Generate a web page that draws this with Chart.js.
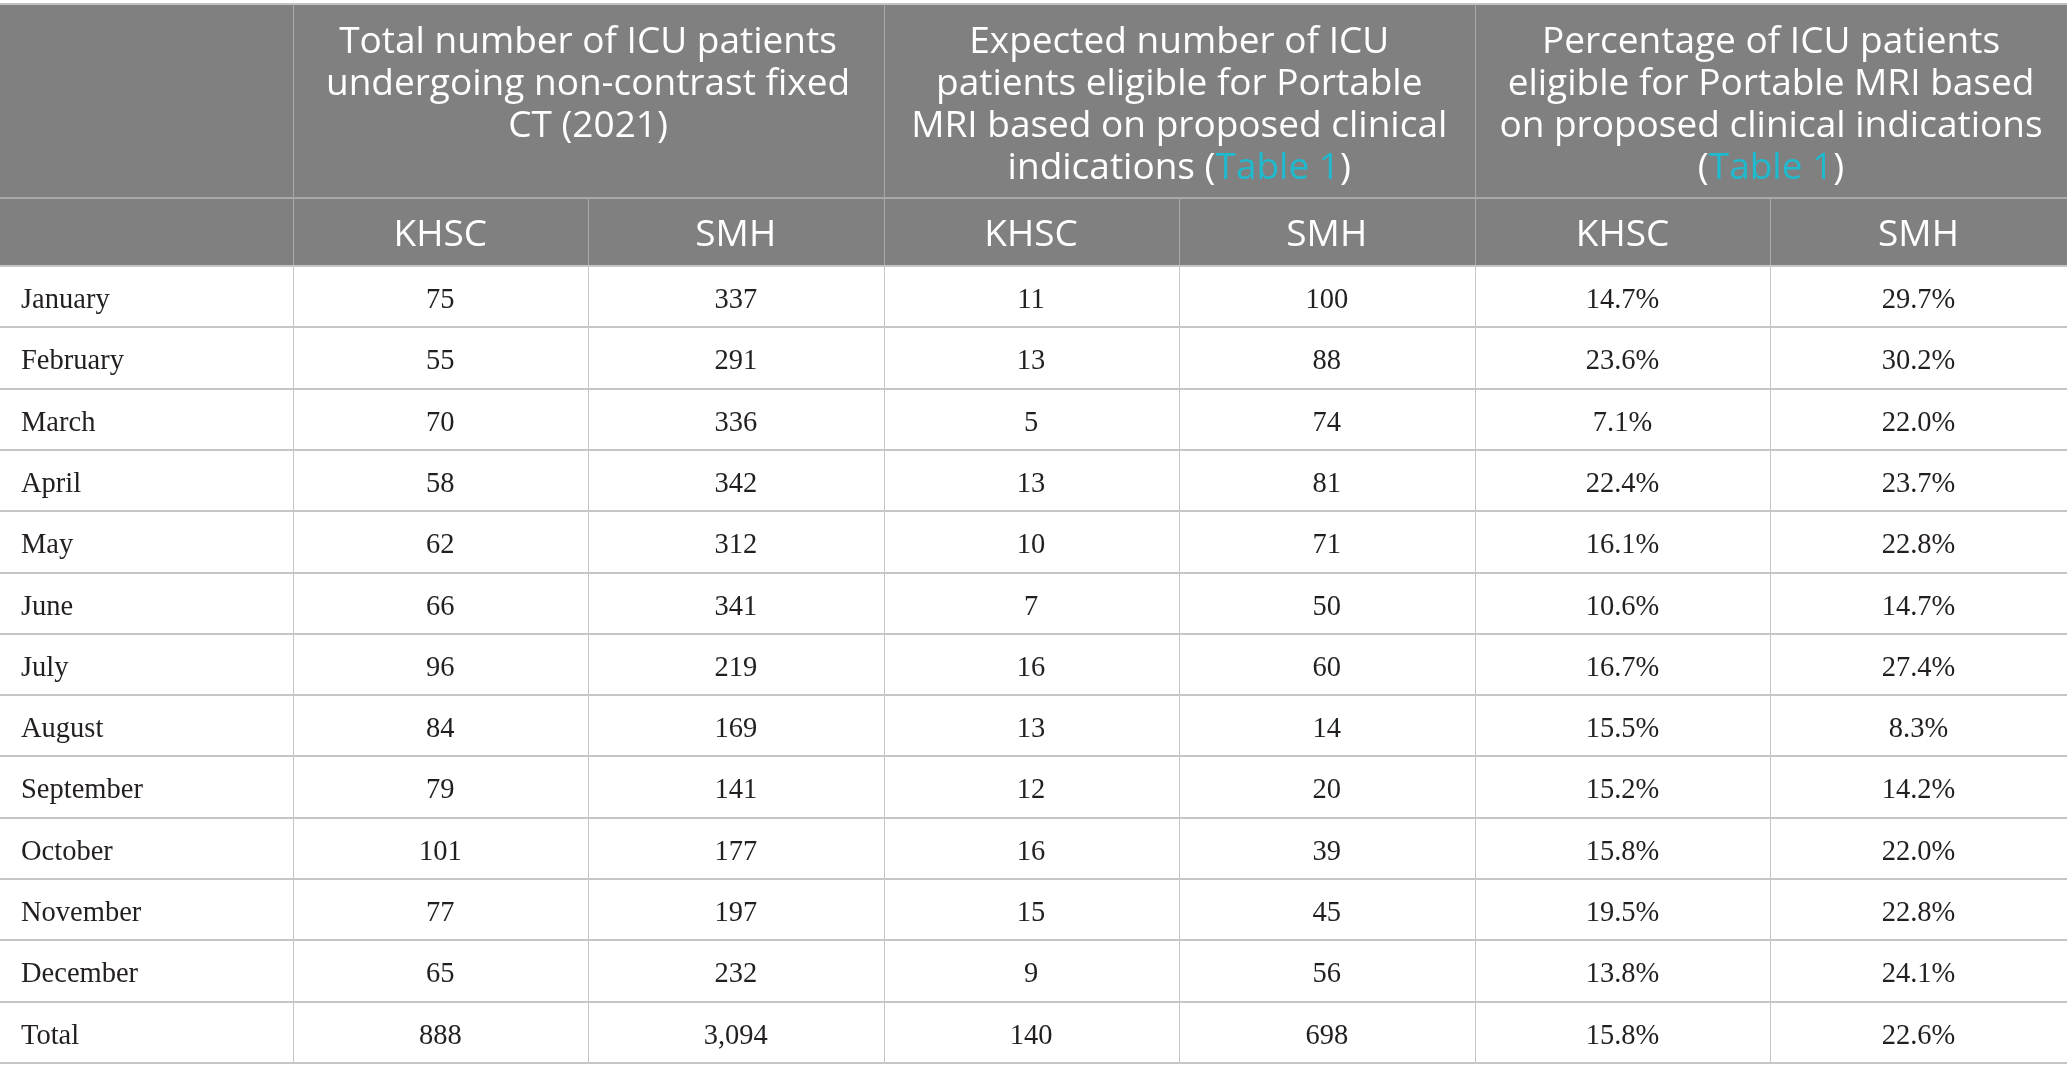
<!DOCTYPE html>
<html>
<head>
<meta charset="utf-8">
<script src="https://cdn.jsdelivr.net/npm/chart.js@4.4.0/dist/chart.umd.min.js"></script>
<style>
html,body{margin:0;padding:0;background:#fff;}
canvas{display:block;}
</style>
</head>
<body>
<canvas id="c" width="2067" height="1082"></canvas>
<script>
// ---- DATA ----
const months = ['January','February','March','April','May','June','July','August','September','October','November','December','Total'];
const khscTotal = [75,55,70,58,62,66,96,84,79,101,77,65,888];
const smhTotal = [337,291,336,342,312,341,219,169,141,177,197,232,3094];
const khscEligible = [11,13,5,13,10,7,16,13,12,16,15,9,140];
const smhEligible = [100,88,74,81,71,50,60,14,20,39,45,56,698];
const khscPct = [14.7,23.6,7.1,22.4,16.1,10.6,16.7,15.5,15.2,15.8,19.5,13.8,15.8];
const smhPct = [29.7,30.2,22.0,23.7,22.8,14.7,27.4,8.3,14.2,22.0,22.8,24.1,22.6];
const groupHeaders = [
  ['Total number of ICU patients','undergoing non-contrast fixed','CT (2021)'],
  ['Expected number of ICU','patients eligible for Portable','MRI based on proposed clinical','indications (Table 1)'],
  ['Percentage of ICU patients','eligible for Portable MRI based','on proposed clinical indications','(Table 1)']
];
const subHeaders = ['KHSC','SMH','KHSC','SMH','KHSC','SMH'];
const linkText = 'Table 1';

// ---- LAYOUT (scale units) ----
const colEdges = [0, 292.5, 588, 883.5, 1178.5, 1475, 1770, 2067];
const headTop = 4, headMid = 198, headBottom = 266, rowH = 61.3;

const fmtInt = v => v.toLocaleString('en-US');
const fmtPct = v => v.toFixed(1) + '%';
const columns = [
  khscTotal.map(fmtInt), smhTotal.map(fmtInt),
  khscEligible.map(fmtInt), smhEligible.map(fmtInt),
  khscPct.map(fmtPct), smhPct.map(fmtPct)
];

const tablePlugin = {
  id: 'table',
  afterDraw(chart) {
    const ctx = chart.ctx;
    const X = v => chart.scales.x.getPixelForValue(v);
    const Y = v => chart.scales.y.getPixelForValue(v);
    const nRows = months.length;
    const bodyBottom = headBottom + nRows * rowH;
    ctx.save();
    // header background
    ctx.fillStyle = '#7f807f';
    ctx.fillRect(X(0), Y(headTop), X(2067) - X(0), Y(headBottom) - Y(headTop));
    // top border
    ctx.fillStyle = '#c2c2c2';
    ctx.fillRect(X(0), Y(headTop) - 1, X(2067) - X(0), 2);
    // header lines
    ctx.strokeStyle = '#a8a8a8';
    ctx.lineWidth = 1;
    [colEdges[1], colEdges[3], colEdges[5]].forEach(e => {
      const x = Math.round(X(e)) + 0.5;
      ctx.beginPath(); ctx.moveTo(x, Y(headTop)); ctx.lineTo(x, Y(headMid)); ctx.stroke();
    });
    for (let i = 1; i < colEdges.length - 1; i++) {
      const x = Math.round(X(colEdges[i])) + 0.5;
      ctx.beginPath(); ctx.moveTo(x, Y(headMid)); ctx.lineTo(x, Y(headBottom)); ctx.stroke();
    }
    ctx.fillStyle = '#a8a8a8';
    ctx.fillRect(X(0), Math.round(Y(headMid)) - 1, X(2067) - X(0), 2);
    // body grid
    ctx.strokeStyle = '#c6c6c6';
    for (let i = 1; i < colEdges.length - 1; i++) {
      const x = Math.round(X(colEdges[i])) + 0.5;
      ctx.beginPath(); ctx.moveTo(x, Y(headBottom)); ctx.lineTo(x, Y(bodyBottom)); ctx.stroke();
    }
    ctx.fillStyle = '#c6c6c6';
    for (let r = 0; r <= nRows; r++) {
      const y = Math.round(Y(headBottom + r * rowH));
      ctx.fillRect(X(0), y - 1, X(2067) - X(0), 2);
    }
    // header text
    ctx.font = '37px "Open Sans"';
    ctx.textBaseline = 'alphabetic';
    ctx.textAlign = 'left';
    groupHeaders.forEach((lines, g) => {
      const cx = (X(colEdges[1 + 2 * g]) + X(colEdges[3 + 2 * g])) / 2;
      lines.forEach((line, li) => {
        const y = Y(headTop + 49 + li * 42);
        const idx = line.indexOf(linkText);
        const parts = idx < 0 ? [[line, '#ffffff']] :
          [[line.slice(0, idx), '#ffffff'], [linkText, '#1fbace'], [line.slice(idx + linkText.length), '#ffffff']];
        const w = parts.reduce((s, p) => s + ctx.measureText(p[0]).width, 0);
        let x = cx - w / 2;
        parts.forEach(p => { ctx.fillStyle = p[1]; ctx.fillText(p[0], x, y); x += ctx.measureText(p[0]).width; });
      });
    });
    ctx.textAlign = 'center';
    ctx.fillStyle = '#ffffff';
    subHeaders.forEach((t, i) => {
      const cx = (X(colEdges[i + 1]) + X(colEdges[i + 2])) / 2;
      ctx.fillText(t, cx, Y(246));
    });
    // body text
    ctx.font = '28.5px "Liberation Serif"';
    ctx.fillStyle = '#231f20';
    months.forEach((m, r) => {
      const y = Y(headBottom + r * rowH + 42);
      ctx.textAlign = 'left';
      ctx.fillText(m, X(colEdges[0]) + 21, y);
      ctx.textAlign = 'center';
      columns.forEach((col, c) => {
        const cx = (X(colEdges[c + 1]) + X(colEdges[c + 2])) / 2;
        ctx.fillText(col[r], cx, y);
      });
    });
    ctx.restore();
  }
};

new Chart(document.getElementById('c'), {
  type: 'scatter',
  data: { datasets: [{ data: [] }] },
  options: {
    responsive: false,
    devicePixelRatio: 1,
    animation: false,
    layout: { padding: 0 },
    plugins: { legend: { display: false }, tooltip: { enabled: false } },
    scales: {
      x: { type: 'linear', min: 0, max: 2067, display: false },
      y: { type: 'linear', min: 0, max: 1082, reverse: true, display: false }
    }
  },
  plugins: [tablePlugin]
});
</script>
</body>
</html>
